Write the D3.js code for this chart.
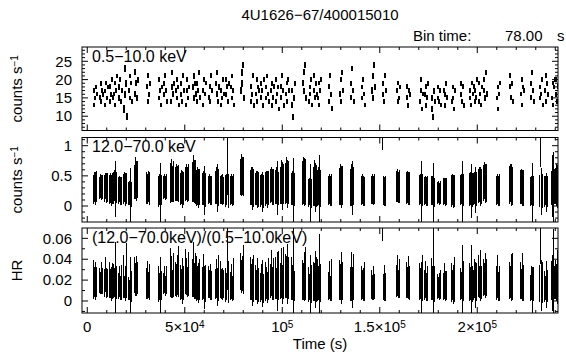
<!DOCTYPE html>
<html>
<head>
<meta charset="utf-8">
<script src="https://cdn.jsdelivr.net/npm/d3@7"></script>
<style>
  body { margin: 0; background: #fff; }
  text { font-family: "Liberation Sans", Arial, Helvetica, sans-serif; fill: #000; }
</style>
</head>
<body>
<div id="chart"></div>
<script>
'use strict';

// centre time (s) of each stretch of good data
const clumpTime = [4100, 7200, 9700, 12300, 14400, 16900, 19500, 22100, 25100, 31300,
    37400, 40000, 43600, 46200, 48700, 51300, 54900, 56900, 60000, 63100,
    66700, 69200, 71800, 74400, 79500, 84600, 87200, 89700, 92300, 94900,
    97400, 100000, 102600, 105600, 111300, 114400, 116900, 119000, 124600, 130300,
    135900, 141500, 146700, 152300, 159500, 164600, 171300, 173900, 177400, 180500,
    183600, 187700, 192300, 196900, 199000, 201500, 204100, 210800, 217400, 223100,
    228200, 232800, 235400, 239000, 241000];

// 0.5-10 keV rate, 5 bins per stretch
const softRate = [
    [13, 17, 15, 18, 16], [15, 19, 14, 17, 16], [17, 13, 19, 15, 18], [14, 18, 16, 20, 15], [16, 19, 13, 17, 21],
    [18, 15, 20, 14, 17], [12, 23, 16, 19, 10], [17, 21, 15, 19, 14], [16, 22, 19, 15, 20], [18, 14, 21, 16, 19],
    [15, 20, 17, 13, 18], [19, 16, 21, 17, 14], [14, 18, 22, 16, 19], [17, 20, 15, 18, 13], [16, 19, 14, 21, 17],
    [13, 17, 20, 15, 18], [18, 15, 21, 19, 16], [14, 19, 17, 22, 15], [17, 13, 20, 16, 19], [15, 18, 14, 21, 17],
    [19, 16, 22, 14, 18], [13, 17, 15, 20, 16], [16, 20, 18, 14, 19], [18, 15, 21, 17, 13], [17, 22, 19, 24, 15],
    [14, 18, 16, 21, 13], [16, 20, 14, 18, 17], [19, 15, 17, 13, 20], [15, 18, 21, 16, 14], [17, 13, 19, 15, 18],
    [14, 20, 16, 18, 12], [18, 15, 21, 17, 13], [16, 19, 14, 20, 17], [13, 17, 9.8, 15, 19], [19, 22, 17, 24, 15],
    [14, 18, 16, 20, 13], [17, 21, 15, 19, 16], [15, 19, 13, 17, 20], [18, 14, 21, 16, 12], [16, 20, 14, 22, 17],
    [19, 15, 23, 17, 14], [15, 18, 20, 16, 13], [17, 21, 15, 24, 18], [16, 19, 14, 21, 17], [17, 14, 19, 15, 18],
    [15, 18, 13, 17, 16], [14, 17, 20, 12, 16], [16, 13, 18, 15, 19], [12, 15, 9.8, 17, 14], [15, 18, 14, 17, 13],
    [17, 13, 16, 19, 15], [14, 18, 15, 12, 17], [16, 19, 14, 18, 13], [15, 17, 13, 19, 16], [18, 14, 17, 15, 20],
    [14, 19, 16, 13, 18], [17, 20, 15, 22, 16], [15, 12, 18, 16, 19], [18, 21, 15, 19, 14], [16, 20, 13, 18, 17],
    [19, 15, 22, 17, 14], [15, 18, 16, 20, 13], [17, 21, 14, 19, 16], [15, 19, 13, 18, 20], [16, 20, 14, 18, 15]
];

const softErr = [0.6, 0.7, 0.55, 0.7, 0.6, 0.75, 1.0, 0.6, 0.8, 0.7,
    0.6, 0.7, 0.75, 0.6, 0.7, 0.6, 0.75, 0.7, 0.6, 0.7,
    0.75, 0.6, 0.7, 0.6, 0.9, 0.7, 0.6, 0.7, 0.6, 0.7,
    0.6, 0.7, 0.6, 0.75, 0.8, 0.6, 0.7, 0.6, 0.7, 0.75,
    0.7, 0.6, 0.9, 0.7, 0.6, 0.7, 0.6, 0.7, 0.8, 0.6,
    0.7, 0.6, 0.7, 0.6, 0.7, 0.6, 0.75, 0.6, 0.7, 0.6,
    0.7, 0.6, 0.7, 0.6, 0.7];

// 12-70 keV rate and its error, 5 bins per stretch
const hardRate = [
    [0.27, 0.31, 0.29, 0.33, 0.28], [0.30, 0.33, 0.31, 0.28, 0.32], [0.29, 0.33, 0.30, 0.27, 0.31], [0.28, 0.30, 0.26, 0.31, 0.29], [0.30, 0.34, 0.28, 0.32, 0.29],
    [0.26, 0.28, 0.25, 0.27, 0.24], [0.28, 0.31, 0.27, 0.30, 0.29], [0.20, 0.22, 0.18, 0.21, 0.19], [0.40, 0.46, 0.42, 0.38, 0.44], [0.30, 0.28, 0.32, 0.29, 0.27],
    [0.24, 0.27, 0.22, 0.25, 0.26], [0.31, 0.33, 0.30, 0.32, 0.29], [0.38, 0.42, 0.36, 0.40, 0.39], [0.36, 0.39, 0.37, 0.34, 0.38], [0.28, 0.31, 0.27, 0.30, 0.29],
    [0.37, 0.40, 0.36, 0.39, 0.35], [0.40, 0.45, 0.41, 0.43, 0.38], [0.30, 0.33, 0.29, 0.32, 0.31], [0.28, 0.30, 0.26, 0.29, 0.27], [0.27, 0.29, 0.26, 0.28, 0.25],
    [0.31, 0.34, 0.30, 0.33, 0.29], [0.27, 0.28, 0.25, 0.29, 0.26], [0.25, 0.27, 1.05, 0.26, 0.24], [0.26, 0.28, 0.25, 0.27, 0.29], [0.48, 0.52, 0.50, 0.46, 0.49],
    [0.30, 0.33, 0.29, 0.32, 0.28], [0.28, 0.30, 0.27, 0.29, 0.26], [0.25, 0.27, 0.23, 0.26, 0.24], [0.28, 0.31, 0.27, 0.29, 0.30], [0.33, 0.35, 0.32, 0.34, 0.31],
    [0.31, 0.34, 0.30, 0.33, 0.29], [0.34, 0.40, 0.33, 0.37, 0.35], [0.38, 0.43, 0.36, 0.40, 0.37], [0.28, 0.30, 0.25, 0.29, 0.27], [0.38, 0.42, 0.40, 0.37, 0.41],
    [0.22, 0.24, 0.20, 0.23, 0.21], [0.32, 0.38, 0.31, 0.35, 0.33], [0.30, 0.33, 0.27, 0.31, 0.29], [0.26, 0.28, 0.25, 0.27, 0.24], [0.32, 0.36, 0.31, 0.34, 0.33],
    [0.31, 0.35, 0.30, 0.33, 0.32], [0.26, 0.28, 0.25, 0.27, 0.24], [0.27, 0.28, 0.26, 0.29, 0.25], [1.60, 0.26, 0.24, 0.25, 0.23], [0.32, 0.34, 0.31, 0.33, 0.30],
    [0.30, 0.32, 0.29, 0.31, 0.28], [0.26, 0.28, 0.24, 0.27, 0.25], [0.25, 0.27, 0.24, 0.26, 0.23], [0.25, 0.26, 0.22, 0.24, 0.23], [0.21, 0.23, 0.20, 0.22, 0.21],
    [0.24, 0.25, 0.23, 0.24, 0.22], [0.25, 0.27, 0.24, 0.26, 0.25], [0.26, 0.28, 0.24, 0.27, 0.25], [0.27, 0.29, 0.25, 0.28, 0.26], [0.28, 0.30, 0.26, 0.27, 0.29],
    [0.33, 0.35, 0.31, 0.34, 0.32], [0.38, 0.42, 0.37, 0.40, 0.36], [0.26, 0.28, 0.25, 0.27, 0.24], [0.35, 0.38, 0.34, 0.37, 0.33], [0.31, 0.33, 0.30, 0.32, 0.29],
    [0.24, 0.26, 0.22, 0.25, 0.23], [0.25, 1.50, 0.24, 0.26, 0.23], [0.24, 0.26, 0.22, 0.25, 0.23], [0.30, 0.33, 0.29, 0.32, 0.31], [0.33, 0.35, 0.32, 0.34, 0.31]
];

const hardErr = [
    [0.24, 0.25, 0.27, 0.25, 0.22], [0.18, 0.20, 0.21, 0.17, 0.19], [0.23, 0.22, 0.25, 0.21, 0.24], [0.24, 0.25, 0.26, 0.23, 0.26], [0.26, 0.26, 0.46, 0.25, 0.24],
    [0.22, 0.22, 0.23, 0.21, 0.22], [0.25, 0.25, 0.27, 0.24, 0.26], [0.19, 0.20, 0.45, 0.19, 0.21], [0.28, 0.35, 0.33, 0.27, 0.30], [0.26, 0.25, 0.26, 0.28, 0.25],
    [0.26, 0.26, 0.50, 0.27, 0.25], [0.19, 0.20, 0.20, 0.21, 0.18], [0.33, 0.36, 0.30, 0.34, 0.32], [0.28, 0.31, 0.29, 0.27, 0.30], [0.27, 0.28, 0.31, 0.26, 0.28],
    [0.28, 0.30, 0.29, 0.31, 0.27], [0.33, 0.39, 0.36, 0.34, 0.35], [0.30, 0.31, 0.33, 0.29, 0.30], [0.27, 0.28, 0.41, 0.26, 0.28], [0.23, 0.24, 0.24, 0.22, 0.23],
    [0.27, 0.30, 0.40, 0.28, 0.29], [0.23, 0.24, 0.23, 0.24, 0.22], [0.26, 0.26, 0.86, 0.27, 0.28], [0.24, 0.25, 0.25, 0.26, 0.24], [0.30, 0.35, 0.31, 0.29, 0.32],
    [0.29, 0.31, 0.36, 0.30, 0.29], [0.27, 0.285, 0.31, 0.28, 0.27], [0.26, 0.26, 0.33, 0.25, 0.27], [0.28, 0.275, 0.31, 0.27, 0.28], [0.28, 0.29, 0.30, 0.28, 0.29],
    [0.28, 0.30, 0.45, 0.29, 0.28], [0.31, 0.36, 0.40, 0.33, 0.32], [0.34, 0.38, 0.40, 0.35, 0.34], [0.27, 0.285, 0.55, 0.28, 0.27], [0.36, 0.39, 0.40, 0.35, 0.37],
    [0.23, 0.23, 0.50, 0.22, 0.24], [0.32, 0.38, 0.41, 0.33, 0.34], [0.30, 0.31, 0.57, 0.29, 0.30], [0.24, 0.25, 0.25, 0.26, 0.24], [0.31, 0.34, 0.35, 0.32, 0.31],
    [0.31, 0.35, 0.45, 0.32, 0.31], [0.24, 0.25, 0.25, 0.23, 0.24], [0.23, 0.25, 0.24, 0.24, 0.22], [0.67, 0.24, 0.24, 0.25, 0.22], [0.26, 0.27, 0.26, 0.27, 0.25],
    [0.26, 0.265, 0.27, 0.26, 0.26], [0.25, 0.25, 0.50, 0.26, 0.25], [0.23, 0.23, 0.24, 0.24, 0.23], [0.24, 0.24, 0.49, 0.23, 0.24], [0.18, 0.18, 0.18, 0.19, 0.17],
    [0.22, 0.22, 0.23, 0.23, 0.21], [0.26, 0.26, 0.28, 0.25, 0.26], [0.25, 0.25, 0.51, 0.26, 0.25], [0.27, 0.27, 0.45, 0.26, 0.27], [0.26, 0.26, 0.38, 0.27, 0.27],
    [0.28, 0.29, 0.31, 0.30, 0.29], [0.30, 0.31, 0.32, 0.30, 0.29], [0.24, 0.25, 0.25, 0.26, 0.24], [0.32, 0.32, 0.34, 0.33, 0.31], [0.28, 0.29, 0.30, 0.28, 0.29],
    [0.24, 0.24, 0.50, 0.24, 0.23], [0.27, 0.86, 0.39, 0.27, 0.26], [0.25, 0.24, 0.32, 0.25, 0.24], [0.28, 0.51, 0.60, 0.29, 0.28], [0.30, 0.35, 0.36, 0.31, 0.30]
];

const binStep = 400; // s between the bins kept for each stretch

const xMajorTicks = [0, 5e4, 1e5, 1.5e5, 2e5];
const xTickMantissa = ['0', '5×10', '10', '1.5×10', '2×10'];
const xTickExponent = ['', '4', '5', '5', '5'];

const panelNames = ['0.5−10.0 keV', '12.0−70.0 keV', '(12.0−70.0keV)/(0.5−10.0keV)'];
const panelYTitles = ['counts s', 'counts s', 'HR'];
const panelYTitleSup = ['−1', '−1', ''];
const panelDomains = [[6.1, 28.9], [-0.265, 1.136], [-0.0115, 0.0699]];
const panelMajor = [[10, 15, 20, 25], [0, 0.5, 1], [0, 0.02, 0.04, 0.06]];
const panelMajorLabels = [['10', '15', '20', '25'], ['0', '0.5', '1'], ['0', '0.02', '0.04', '0.06']];
const panelMinorStep = [1, 0.1, 0.01];

const W = 566, H = 356;
const left = 82, right = 558;
const panelTop = [47, 137.5, 228];
const panelBottom = [130.5, 222, 313];
const barWidth = [2, 1, 1];

// build the bins
let soft = [], hard = [], ratio = [];
clumpTime.forEach(function(t0, c) {
    for (let i = 0; i < 5; i++) {
        let t = t0 + (i - 2) * binStep;
        let s = softRate[c][i], se = softErr[c];
        let h = hardRate[c][i], he = hardErr[c][i];
        soft.push({t: t, v: s, e: se});
        hard.push({t: t, v: h, e: he});
        let r = h / s;
        let re = Math.sqrt(Math.pow(he / s, 2) + Math.pow(h * se / (s * s), 2));
        ratio.push({t: t, v: r, e: re});
    }
});
const panelData = [soft, hard, ratio];

const svg = d3.select('#chart').append('svg')
    .attr('width', W)
    .attr('height', H);

const x = d3.scaleLinear().domain([-2700, 241400]).range([left, right]);

// title and bin time
svg.append('text')
    .attr('x', (left + right) / 2).attr('y', 20)
    .attr('text-anchor', 'middle')
    .style('font-size', '15px')
    .text('4U1626−67/400015010');
svg.append('text').attr('x', 413).attr('y', 41).style('font-size', '15px').text('Bin time:');
svg.append('text').attr('x', 505).attr('y', 41).style('font-size', '15px').text('78.00');
svg.append('text').attr('x', 557).attr('y', 41).style('font-size', '15px').text('s');

const xMinor = d3.range(0, 241400, 1e4).filter(v => v % 5e4 !== 0);

panelDomains.forEach(function(dom, p) {
    let y = d3.scaleLinear().domain(dom).range([panelBottom[p], panelTop[p]]);
    let g = svg.append('g');

    g.append('clipPath').attr('id', 'clip' + p)
        .append('rect')
        .attr('x', left).attr('y', panelTop[p])
        .attr('width', right - left).attr('height', panelBottom[p] - panelTop[p]);

    // error bars
    g.append('g').attr('clip-path', 'url(#clip' + p + ')')
        .selectAll('line')
        .data(panelData[p])
        .join('line')
        .attr('x1', d => x(d.t)).attr('x2', d => x(d.t))
        .attr('y1', d => y(d.v - d.e)).attr('y2', d => y(d.v + d.e))
        .attr('stroke', '#000')
        .attr('stroke-width', barWidth[p])
        .attr('shape-rendering', 'crispEdges');

    // ticks pointing inwards on all four sides
    let yMinor = d3.range(Math.ceil(dom[0] / panelMinorStep[p]), Math.floor(dom[1] / panelMinorStep[p]) + 1)
        .map(k => +(k * panelMinorStep[p]).toFixed(4));
    let tickG = g.append('g').attr('stroke', '#000').attr('stroke-width', 1);
    function tick(x1, y1, x2, y2) {
        tickG.append('line').attr('x1', x1).attr('y1', y1).attr('x2', x2).attr('y2', y2);
    }
    yMinor.forEach(function(v) {
        let major = panelMajor[p].some(m => Math.abs(m - v) < 1e-6);
        let len = major ? 6 : 3;
        tick(left, y(v), left + len, y(v));
        tick(right, y(v), right - len, y(v));
    });
    xMajorTicks.forEach(function(v) {
        tick(x(v), panelTop[p], x(v), panelTop[p] + 6);
        tick(x(v), panelBottom[p], x(v), panelBottom[p] - 6);
    });
    xMinor.forEach(function(v) {
        tick(x(v), panelTop[p], x(v), panelTop[p] + 3);
        tick(x(v), panelBottom[p], x(v), panelBottom[p] - 3);
    });

    // frame
    g.append('rect')
        .attr('x', left).attr('y', panelTop[p])
        .attr('width', right - left).attr('height', panelBottom[p] - panelTop[p])
        .attr('fill', 'none').attr('stroke', '#000').attr('stroke-width', 1);

    // y tick labels
    g.selectAll('text.ylab')
        .data(panelMajor[p])
        .join('text')
        .attr('class', 'ylab')
        .attr('x', left - 10)
        .attr('y', d => y(d))
        .attr('dy', '0.35em')
        .attr('text-anchor', 'end')
        .style('font-size', '15px')
        .text((d, i) => panelMajorLabels[p][i]);

    // y title
    let yt = g.append('text')
        .attr('transform', 'translate(22,' + ((panelTop[p] + panelBottom[p]) / 2) + ') rotate(-90)')
        .attr('text-anchor', 'middle')
        .style('font-size', '15px');
    yt.append('tspan').text(panelYTitles[p]);
    if (panelYTitleSup[p]) {
        yt.append('tspan').attr('dy', '-0.45em').style('font-size', '10px').text(panelYTitleSup[p]);
    }

    // band label
    g.append('text')
        .attr('x', left + 10).attr('y', panelTop[p] + 14.5)
        .style('font-size', '16px')
        .text(panelNames[p]);

    // x tick labels on the bottom panel
    if (p === panelDomains.length - 1) {
        xMajorTicks.forEach(function(v, i) {
            let t = g.append('text')
                .attr('x', x(v)).attr('y', panelBottom[p] + 19)
                .attr('text-anchor', 'middle')
                .style('font-size', '15px');
            t.append('tspan').text(xTickMantissa[i]);
            if (xTickExponent[i]) {
                t.append('tspan').attr('dy', '-0.45em').style('font-size', '10px').text(xTickExponent[i]);
            }
        });
    }
});

svg.append('text')
    .attr('x', (left + right) / 2).attr('y', 349)
    .attr('text-anchor', 'middle')
    .style('font-size', '15px')
    .text('Time (s)');
</script>
</body>
</html>
